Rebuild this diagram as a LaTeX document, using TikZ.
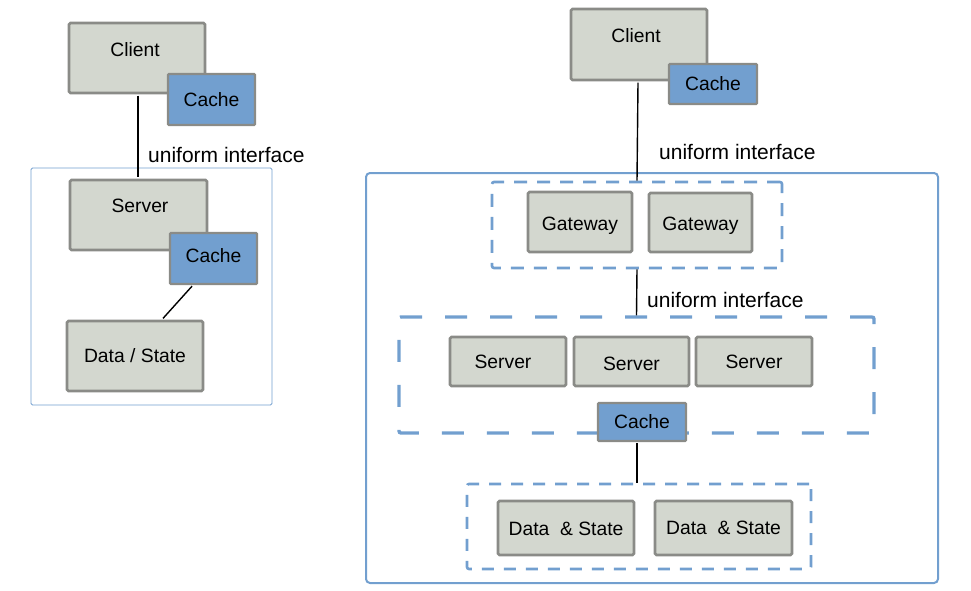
\documentclass[tikz,border=0pt]{standalone}
\usepackage{fontspec}
\setmainfont{Liberation Sans}
\usetikzlibrary{calc}
\definecolor{boxfill}{HTML}{D3D7CF}
\definecolor{boxline}{HTML}{8A8B87}
\definecolor{cachefill}{HTML}{729FCF}
\definecolor{frameblue}{HTML}{729FCF}
\tikzset{
  gbox/.style={draw=boxline, fill=boxfill, line width=2.6pt, rounded corners=1.5pt, inner sep=0pt,
    text height=13.8pt, text depth=0pt, font=\fontsize{19.3}{23}\selectfont},
  cbox/.style={draw=boxline, fill=cachefill, line width=2.2pt, rounded corners=1pt, inner sep=0pt,
    text height=13.8pt, text depth=0pt, font=\fontsize{19.3}{23}\selectfont},
  boxtext/.style={inner sep=0pt, text height=13.8pt, text depth=0pt, font=\fontsize{19.3}{23}\selectfont},
  uilabel/.style={inner sep=0pt, anchor=west, font=\fontsize{21}{25}\selectfont},
  conn/.style={draw=black, line width=1.4pt},
  dashA/.style={draw=frameblue, line width=2.6pt, dash pattern=on 13pt off 10pt, rounded corners=2pt, inner sep=0pt},
  dashB/.style={draw=frameblue, line width=3.4pt, dash pattern=on 22pt off 23pt, rounded corners=2pt, inner sep=0pt},
  frame/.style={draw=frameblue, inner sep=0pt},
}
\begin{document}
\begin{tikzpicture}[x=1pt, y=-1pt]
\useasboundingbox (0,0) rectangle (971,591);

% ---------- left diagram ----------
\node[frame, line width=0.8pt, rounded corners=1.5pt, minimum width=241pt, minimum height=237pt] (lframe) at (151.5,286.5) {};

\node[gbox, minimum width=136pt, minimum height=70pt] (lclient) at (137,58) {};
\node[boxtext] (lclientT) at (135,50) {Client};
\node[cbox, minimum width=87pt, minimum height=51pt] (lcache1) at (211.5,99.5) {Cache};

\node[gbox, minimum width=137pt, minimum height=70pt] (lserver) at (138.5,215) {};
\node[boxtext] (lserverT) at (140,206) {Server};
\node[cbox, minimum width=87pt, minimum height=51pt] (lcache2) at (213.5,258.5) {\raisebox{3pt}{Cache}};

\node[gbox, minimum width=136pt, minimum height=70pt] (ldata) at (135,356) {Data / State};

\draw[conn] ($(lclient.south)+(1,1.3)$) -- ($(lserver.north)+(-0.5,-1.3)$);
\draw[conn] ($(lcache2.south)+(-21.5,1.1)$) -- ($(ldata.north)+(28,-1.3)$);

\node[uilabel] (lui) at (148,155) {uniform interface};

% ---------- right diagram ----------
\node[frame, line width=2pt, rounded corners=4pt, minimum width=572pt, minimum height=410pt] (rframe) at (652,378) {};

\node[dashA, minimum width=290pt, minimum height=86pt] (dgw) at (637,225) {};
\node[dashB, minimum width=475pt, minimum height=116pt] (dsrv) at (636.5,375) {};
\node[dashA, dash pattern=on 12pt off 10pt, minimum width=344pt, minimum height=85pt] (dds) at (639,526.5) {};

\node[gbox, minimum width=136pt, minimum height=71pt] (rclient) at (639,44.5) {};
\node[boxtext] (rclientT) at (636,36) {Client};
\node[cbox, minimum width=88pt, minimum height=40pt] (rcache1) at (713,84) {Cache};

\node[gbox, minimum width=104pt, minimum height=60pt] (gw1) at (580,222) {\raisebox{-1.5pt}{Gateway}};
\node[gbox, minimum width=103pt, minimum height=59pt] (gw2) at (700.5,222.5) {\raisebox{-1.5pt}{Gateway}};

\node[gbox, minimum width=116pt, minimum height=49pt] (srv1) at (508,361.5) {\hspace*{-10pt}Server};
\node[gbox, minimum width=115pt, minimum height=49pt] (srv2) at (631.5,361.5) {\raisebox{-2pt}{Server}};
\node[gbox, minimum width=116pt, minimum height=49pt] (srv3) at (754,361.5) {Server};

\node[cbox, minimum width=88pt, minimum height=38pt] (rcache2) at (642,422) {Cache};

\node[gbox, minimum width=136pt, minimum height=54pt] (ds1) at (566,528) {\raisebox{-1pt}{Data\ \ \& State}};
\node[gbox, minimum width=137pt, minimum height=54pt] (ds2) at (723.5,528) {Data\ \ \& State};

\draw[conn] ($(rclient.south)+(-1,1.3)$) -- ($(dgw.north)+(0,0)$);
\draw[conn] (dgw.south) -- (dsrv.north);
\draw[conn] ($(rcache2.south)+(-5,1.1)$) -- ($(dds.north)+(-2,0)$);

\node[uilabel] (rui1) at (659,152) {uniform interface};
\node[uilabel] (rui2) at (647,300) {uniform interface};
\end{tikzpicture}
\end{document}
